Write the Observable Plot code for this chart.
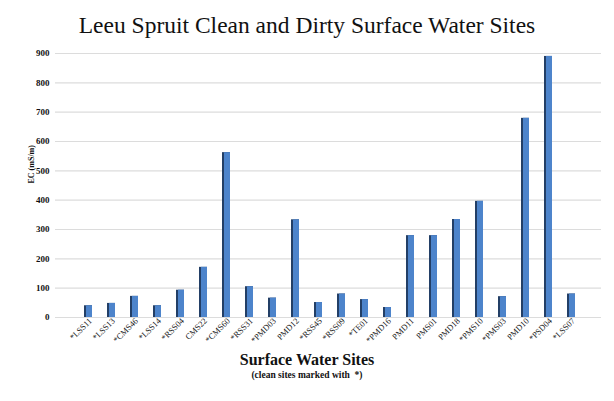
<!DOCTYPE html>
<html>
<head>
<meta charset="utf-8">
<script src="https://cdn.jsdelivr.net/npm/d3@7"></script>
<script src="https://cdn.jsdelivr.net/npm/@observablehq/plot@0.6"></script>
<style>
  body { margin: 0; background: #fff; font-family: "Liberation Serif", "DejaVu Serif", serif; }
  #wrap { width: 614px; }
  #title { height: 44px; padding-top: 7px; box-sizing: border-box; line-height: 37px; text-align: center; font-size: 23.5px; color: #111; white-space: nowrap; font-family: "Liberation Serif", serif; }
  #xtitle { text-align: center; font-weight: bold; font-size: 16px; line-height: 18px; color: #111; padding-top: 1px; }
  #xsub { text-align: center; font-weight: bold; font-size: 9.5px; line-height: 12px; color: #111; }
  svg { display: block; }
</style>
</head>
<body>
<div id="wrap">
  <div id="title">Leeu Spruit Clean and Dirty Surface Water Sites</div>
  <div id="chart"></div>
  <div id="xtitle">Surface Water Sites</div>
  <div id="xsub">(clean sites marked with &nbsp;*)</div>
</div>
<script>
const sites = ["*LSS11","*LSS13","*CMS46","*LSS14","*RSS04","CMS22","*CMS60","*RSS31","*PMD03","PMD12","*RSS45","*RSS09","*TE01","*PMD16","PMD11","PMS01","PMD18","*PMS10","*PMS03","PMD10","*PSD04","*LSS07"];
const ec = [40, 48, 72, 40, 93, 171, 562, 105, 66, 333, 51, 80, 61, 34, 279, 279, 334, 396, 71, 679, 890, 80];
const yTicks = [0, 100, 200, 300, 400, 500, 600, 700, 800, 900];
const yLabel = "EC (mS/m)";

const data = sites.map((s, i) => ({site: s, ec: ec[i]}));

const chart = Plot.plot({
  width: 614,
  height: 306,
  marginTop: 9,
  marginBottom: 33,
  marginLeft: 58,
  marginRight: 13,
  style: { fontFamily: "'Liberation Serif', serif", color: "#111", background: "#fff" },
  x: { domain: sites, padding: 0.636, label: null },
  y: { domain: [0, 900], ticks: yTicks, label: null },
  marks: [
    Plot.ruleY(yTicks, { stroke: "#dcdcdc", strokeWidth: 1.2, insetLeft: -3 }),
    Plot.axisY(yTicks, { tickSize: 0, tickPadding: 9, fontSize: 9, fontWeight: "bold", label: null }),
    Plot.axisX({ tickSize: 0, tickPadding: 2, tickRotate: -45, fontSize: 8.5, dx: 2, label: null }),
    Plot.barY(data, { x: "site", y: "ec", fill: "#233f66" }),
    Plot.barY(data, { x: "site", y: "ec", fill: "#4d84cb", insetLeft: 2 }),
    Plot.text([yLabel], { text: d => d, frameAnchor: "left", rotate: -90, dx: -27, dy: -2, fontSize: 8, fontWeight: "bold" })
  ]
});
document.getElementById("chart").appendChild(chart);
</script>
</body>
</html>
